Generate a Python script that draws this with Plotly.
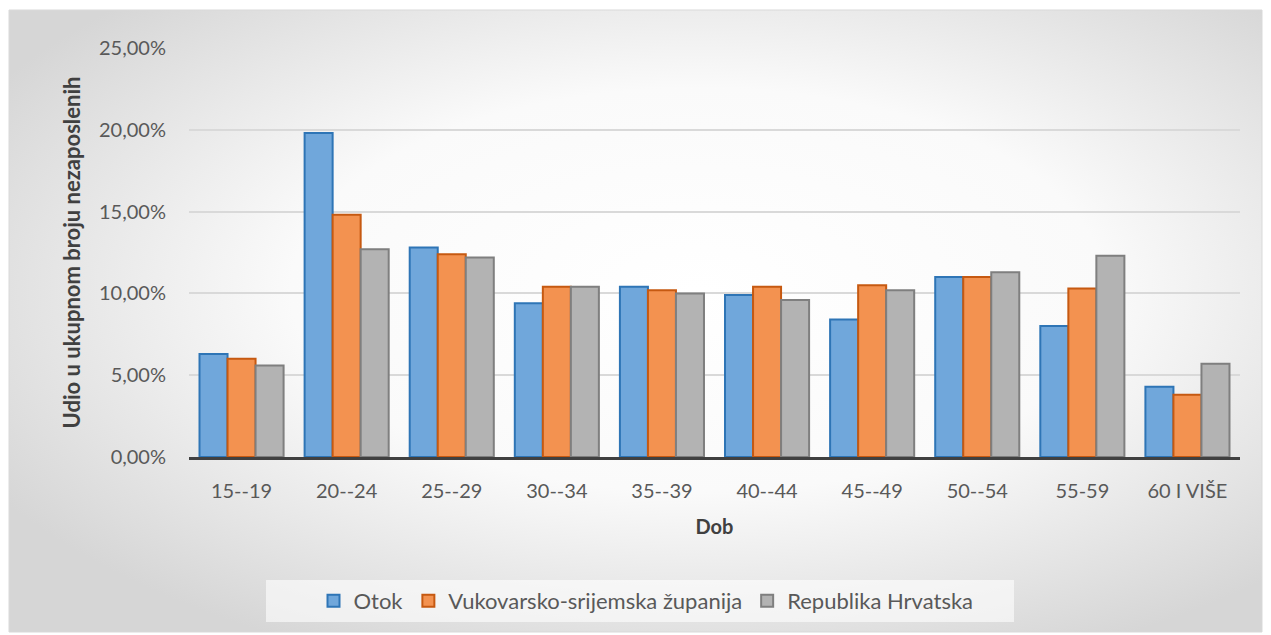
import base64
import plotly.graph_objects as go

categories = ["15--19", "20--24", "25--29", "30--34", "35--39",
              "40--44", "45--49", "50--54", "55-59", "60 I VIŠE"]

otok = [0.063, 0.198, 0.128, 0.094, 0.104, 0.099, 0.084, 0.110, 0.080, 0.043]
vukovarsko = [0.060, 0.148, 0.124, 0.104, 0.102, 0.104, 0.105, 0.110, 0.103, 0.038]
hrvatska = [0.056, 0.127, 0.122, 0.104, 0.100, 0.096, 0.102, 0.113, 0.123, 0.057]

series_names = ["Otok", "Vukovarsko-srijemska županija", "Republika Hrvatska"]
fill_colors = ["#70A7DB", "#F39250", "#B3B3B3"]
edge_colors = ["#2E75B6", "#C65911", "#7F7F7F"]

FONT = "Lato"

# the page body has an 8px margin, so the figure starts at (8, 8) on screen
OFF = 8
W, H = 1271 - OFF, 635 - OFF
# plot area in screen pixels
sx0, sx1, sy0, sy1 = 189, 1240, 48, 457
L, R, T, B = sx0 - OFF, W - (sx1 - OFF), sy0 - OFF, H - (sy1 - OFF)
pw, ph = sx1 - sx0, sy1 - sy0

px = lambda x: (x - sx0) / pw
py = lambda y: 1 - (y - sy0) / ph

svg = (
    '<svg xmlns="http://www.w3.org/2000/svg" width="1253" height="622">'
    '<defs><radialGradient id="g" cx="55%" cy="45%" r="65%">'
    '<stop offset="0" stop-color="#ffffff"/>'
    '<stop offset="0.5" stop-color="#fafafa"/>'
    '<stop offset="1" stop-color="#d6d6d6"/>'
    '</radialGradient></defs>'
    '<rect width="100%" height="100%" fill="url(#g)"/></svg>'
)
bg_src = "data:image/svg+xml;base64," + base64.b64encode(svg.encode()).decode()
bx0, by0, bx1, by1 = 9, 10, 1262, 632

fig = go.Figure()
for name, vals, fc, ec in zip(series_names, [otok, vukovarsko, hrvatska], fill_colors, edge_colors):
    fig.add_trace(go.Bar(
        x=categories, y=vals, name=name,
        marker=dict(color=fc, line=dict(color=ec, width=2)),
    ))

fig.add_layout_image(dict(
    source=bg_src, xref="paper", yref="paper",
    x=px(bx0), y=py(by0), sizex=(bx1 - bx0) / pw, sizey=(by1 - by0) / ph,
    xanchor="left", yanchor="top", sizing="stretch", layer="below",
))
fig.add_shape(type="rect", xref="paper", yref="paper",
              x0=px(bx0), x1=px(bx1), y0=py(by1), y1=py(by0),
              line=dict(color="#D9D9D9", width=1), layer="below")
# legend backdrop
fig.add_shape(type="rect", xref="paper", yref="paper",
              x0=px(266), x1=px(1014), y0=py(622), y1=py(580),
              fillcolor="rgba(255,255,255,0.6)", line=dict(width=0), layer="below")

fig.update_layout(
    width=W, height=H,
    margin=dict(l=L, r=R, t=T, b=B, autoexpand=False),
    paper_bgcolor="white",
    plot_bgcolor="rgba(0,0,0,0)",
    barmode="group", bargap=0.2, bargroupgap=0,
    separators=", ",
    font=dict(family=FONT, color="#595959", size=20),
    showlegend=True,
    legend=dict(orientation="h", x=px(646), y=py(601), xanchor="center", yanchor="middle",
                font=dict(size=22, color="#595959"), bgcolor="rgba(0,0,0,0)",
                itemwidth=30, traceorder="normal"),
    xaxis=dict(
        showline=True, linecolor="#404040", linewidth=3,
        ticks="", ticklabelstandoff=14, showgrid=False,
        tickfont=dict(size=20, color="#595959"),
        title=dict(text="<b>Dob</b>", font=dict(size=20, color="#404040"), standoff=19),
    ),
    yaxis=dict(
        range=[0, 0.25], dtick=0.05, tickformat=".2%",
        showgrid=True, gridcolor="#D9D9D9", gridwidth=2,
        zeroline=False, showline=False, ticks="", ticklabelstandoff=22,
        tickfont=dict(size=20, color="#595959"),
        title=dict(text="<b>Udio u ukupnom broju nezaposlenih</b>",
                   font=dict(size=22, color="#404040"), standoff=12),
    ),
)

fig.write_html("out.html")
